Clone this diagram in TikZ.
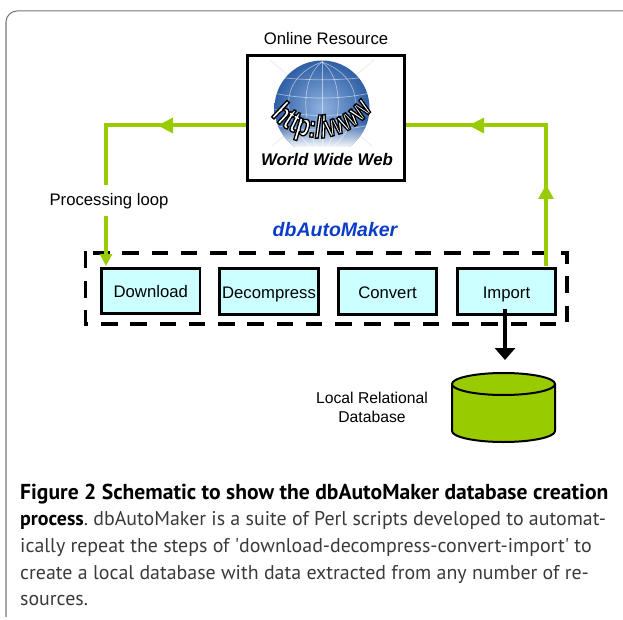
\documentclass[tikz,border=0pt]{standalone}
\usepackage{fontspec}
\setmainfont{Liberation Sans}
\newfontfamily\capfont{PT Sans}
\newfontfamily\urlfont[FakeStretch=0.74]{Liberation Sans}
\usetikzlibrary{arrows.meta,decorations.text,fadings,calc}
\definecolor{loopgreen}{HTML}{99CC00}
\definecolor{stepcyan}{HTML}{CCFFFF}
\definecolor{titleblue}{HTML}{0A3CC8}
\definecolor{capgray}{HTML}{3A3A3A}
\definecolor{globelight}{HTML}{8FB2E0}
\definecolor{globemid}{HTML}{5F8CC8}
\definecolor{globedark}{HTML}{2F5FA5}
\newcommand{\urlstyle}{\urlfont\fontsize{31}{31}\selectfont\bfseries\color{white}\special{pdf:code 0 0 0 RG 2 Tr 1.3 w}}
\tikzset{
  stepbox/.style={draw=black,fill=stepcyan,line width=2.7pt,minimum width=98.5pt,minimum height=45.5pt,inner sep=0pt,text height=16pt,text depth=3pt,font=\fontsize{16.7}{18}\selectfont},
  label/.style={inner sep=0pt,font=\fontsize{16.7}{18}\selectfont,align=center},
  loopline/.style={draw=loopgreen,line width=4pt},
  capline/.style={anchor=base west,inner sep=0pt,font=\capfont\fontsize{19.9}{22}\selectfont\frenchspacing,text=capgray},
  gridline/.style={draw=white,opacity=.5,line width=.7pt},
}
\begin{document}
\begin{tikzpicture}[x=1pt,y=-1pt]
\useasboundingbox (0,0) rectangle (623,620);
% frame
\draw[gray!70,line width=1.4pt] (6,617) -- (6,22);
\draw[gray!90!black,line width=1pt] (6,22) arc[start angle=180,end angle=90,radius=11pt] -- (623,11);
% web box
\node[draw=black,line width=3pt,fill=white,minimum width=157pt,minimum height=125pt,inner sep=0pt] (web) at (326,118.5) {};
\draw[black!10,line width=.5pt] (270,60) -- (372,146) (374,60) -- (272,146);
\begin{scope}
\clip (265,60) rectangle (385,147);
\shade[inner color=globelight,middle color=globemid,outer color=globedark] (322,108) circle[radius=47.5];
\clip (322,108) circle[radius=47.5];
\foreach \r in {16,33}{
  \draw[gridline] (322,62) .. controls (322-\r*1.35,78) and (322-\r*1.35,125) .. (322,156);
  \draw[gridline] (322,62) .. controls (322+\r*1.35,78) and (322+\r*1.35,125) .. (322,156);}
\draw[gridline] (322,60) -- (322,156);
\foreach \yy/\b in {76/5,92/8,108/10,124/8}{\draw[gridline] (270,\yy) .. controls (300,\yy+\b) and (344,\yy+\b) .. (374,\yy);}
\fill[white,path fading=north] (270,122) rectangle (375,148);
\end{scope}
\begin{scope}
\path[decorate,decoration={text along path,text align=center,text={|\urlstyle|http://www}}] (268,112) .. controls (293,146) and (346,148) .. (375,106);
\end{scope}
\node[inner sep=0pt,font=\fontsize{16.8}{18}\selectfont\bfseries\itshape] (webtext) at (327,160) {World Wide Web};
\node[label] (online) at (326,39) {Online Resource};
% dashed group
\draw[black,line width=3.8pt,dash pattern=on 16.5pt off 12.75pt] (93,253) -- (567,253) -- (567,324) -- (85.5,324) -- (85.5,253) -- cycle;
\node[stepbox] (download) at (150.75,291) {Download};
\node[stepbox] (decompress) at (269,291.5) {Decompress};
\node[stepbox] (convert) at (387.5,291.5) {Convert};
\node[stepbox] (import) at (506.5,291.5) {Import};
\node[inner sep=0pt,font=\fontsize{19.5}{22}\selectfont\bfseries\itshape,text=titleblue] (title) at (335,229.5) {dbAutoMaker};
\node[label] (loop) at (109,201) {Processing loop};
% loop
\coordinate (lefttop) at (106,125.5);
\coordinate (righttop) at (546,125.5);
\coordinate (leftend) at (106,266);
\coordinate (rightstart) at (546,266);
\draw[loopline] (web.west |- lefttop) -- (lefttop) -- (106,185);
\draw[loopline,-{Triangle[width=12pt,length=12pt,sep=0pt]}] (106,216) -- (leftend);
\draw[loopline] (rightstart) -- (righttop) -- (web.east |- righttop);
\fill[loopgreen] (538,199) -- (554,199) -- (546,185) -- cycle;
\fill[loopgreen] (484,117.5) -- (484,133.5) -- (469,125.5) -- cycle;
\fill[loopgreen] (173,117.5) -- (173,133.5) -- (158,125.5) -- cycle;
% database
\coordinate (dbtop) at (505,360);
\draw[black,fill=loopgreen,line width=2pt] (452,384) -- (452,431) arc[start angle=180,end angle=360,x radius=51.5pt,y radius=11pt] -- (555,384) arc[start angle=0,end angle=360,x radius=51.5pt,y radius=11pt];
\draw[black,line width=4pt,-{Triangle[width=20pt,length=12pt,sep=0pt]}] (import.south -| dbtop) ++(0,-7) -- (dbtop);
\node[inner sep=0pt,align=center,font=\fontsize{15.7}{19.5}\selectfont] (dblabel) at (372,407.5) {Local Relational\\Database};
% caption
\node[capline,font=\capfont\bfseries\fontsize{21.6}{22}\selectfont,text=black] (c1) at (20,499) {Figure 2 Schematic to show the dbAutoMaker database creation};
\node[capline] (c2) at (20,525.7) {\textcolor{black}{\bfseries process}. dbAutoMaker is a suite of Perl scripts developed to automat-};
\node[capline] (c3) at (20,552.5) {ically repeat the steps of 'download-decompress-convert-import' to};
\node[capline] (c4) at (20,579) {create a local database with data extracted from any number of re-};
\node[capline] (c5) at (20,605.5) {sources.};
\end{tikzpicture}
\end{document}
